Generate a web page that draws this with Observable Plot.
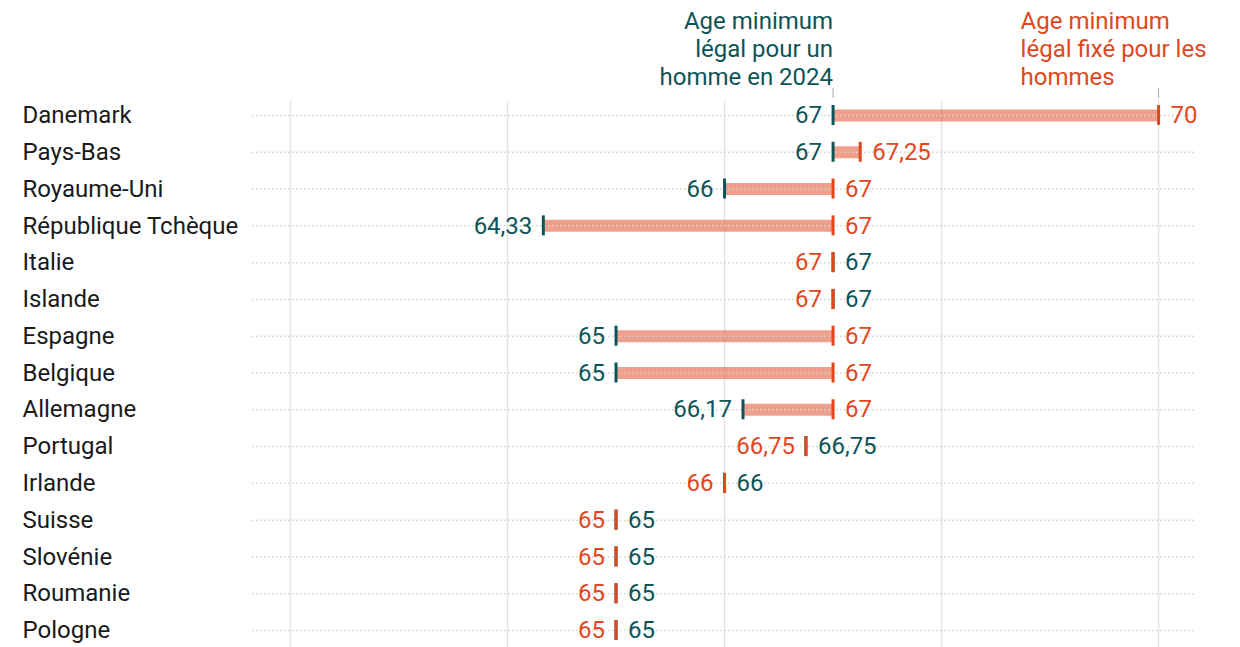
<!DOCTYPE html>
<html><head><meta charset="utf-8">
<script src="https://cdn.jsdelivr.net/npm/d3@7"></script>
<script src="https://cdn.jsdelivr.net/npm/@observablehq/plot@0.6"></script>
<style>body{margin:0;background:#fff;font-family:Roboto,sans-serif}</style>
</head><body><div id="chart"></div>
<script>
const countries = ["Danemark","Pays-Bas","Royaume-Uni","République Tchèque","Italie","Islande","Espagne","Belgique","Allemagne","Portugal","Irlande","Suisse","Slovénie","Roumanie","Pologne"];
const current = [67, 67, 66, 64.33, 67, 67, 65, 65, 66.17, 66.75, 66, 65, 65, 65, 65];
const legal = [70, 67.25, 67, 67, 67, 67, 67, 67, 67, 66.75, 66, 65, 65, 65, 65];
const gridTicks = [62, 64, 66, 68, 70];
const labelCurrent = "Age minimum\nlégal pour un\nhomme en 2024";
const labelLegal = "Age minimum\nlégal fixé pour les\nhommes";

const teal = "#0d5457", orange = "#e2471c";
const data = countries.map((c, i) => ({country: c, current: current[i], legal: legal[i]}));
const fmt = v => String(v).replace(".", ",");
const first = data[0];

const chart = Plot.plot({
  width: 1240, height: 647,
  marginLeft: 252, marginRight: 45, marginTop: 101, marginBottom: 0,
  style: {fontFamily: "Roboto, sans-serif", fontSize: "24px", background: "#fff"},
  x: {domain: [61.65, 70.34], axis: null},
  y: {type: "band", domain: countries, range: [96.6, 648.4], padding: 0, round: false, axis: null},
  marks: [
    Plot.ruleX(gridTicks, {stroke: "#e4e4e4", strokeWidth: 1.5}),
    Plot.ruleY(data.filter(d => d.legal > d.current), {y: "country", x1: "current", x2: "legal", stroke: "#e4603f", strokeOpacity: 0.6, strokeWidth: 12}),
    Plot.ruleY(data, {y: "country", stroke: "#d2d2d2", strokeWidth: 1.5, strokeDasharray: "1.5,2.5"}),
    Plot.tickX(data, {x: "current", y: "country", stroke: teal, strokeWidth: 3, insetTop: 8.4, insetBottom: 8.4}),
    Plot.tickX(data, {x: "legal", y: "country", stroke: orange, strokeWidth: 3, insetTop: 8.4, insetBottom: 8.4}),
    Plot.tickX([first.current, first.legal], {x: d => d, y: () => first.country, stroke: "#aaa", strokeWidth: 1, dy: -26, insetTop: 17.4, insetBottom: 9.4}),
    Plot.text(data, {x: "current", y: "country", text: d => fmt(d.current), textAnchor: "end", dx: -11,
      fill: d => d.current < d.legal ? teal : orange}),
    Plot.text(data, {x: "legal", y: "country", text: d => fmt(d.legal), textAnchor: "start", dx: 12,
      fill: d => d.current < d.legal ? orange : teal}),
    Plot.text(data, {y: "country", text: "country", frameAnchor: "left", textAnchor: "start", dx: -230, fill: "#1a1a1a"}),
    Plot.text([labelCurrent], {x: () => first.current, y: () => first.country, text: d => d, textAnchor: "end", lineAnchor: "bottom", lineHeight: 1.167, dy: -30, fill: teal}),
    Plot.text([labelLegal], {x: () => first.legal, y: () => first.country, text: d => d, textAnchor: "start", lineAnchor: "bottom", lineHeight: 1.167, dy: -30, dx: -138, fill: orange})
  ]
});
document.getElementById("chart").appendChild(chart);
</script></body></html>
